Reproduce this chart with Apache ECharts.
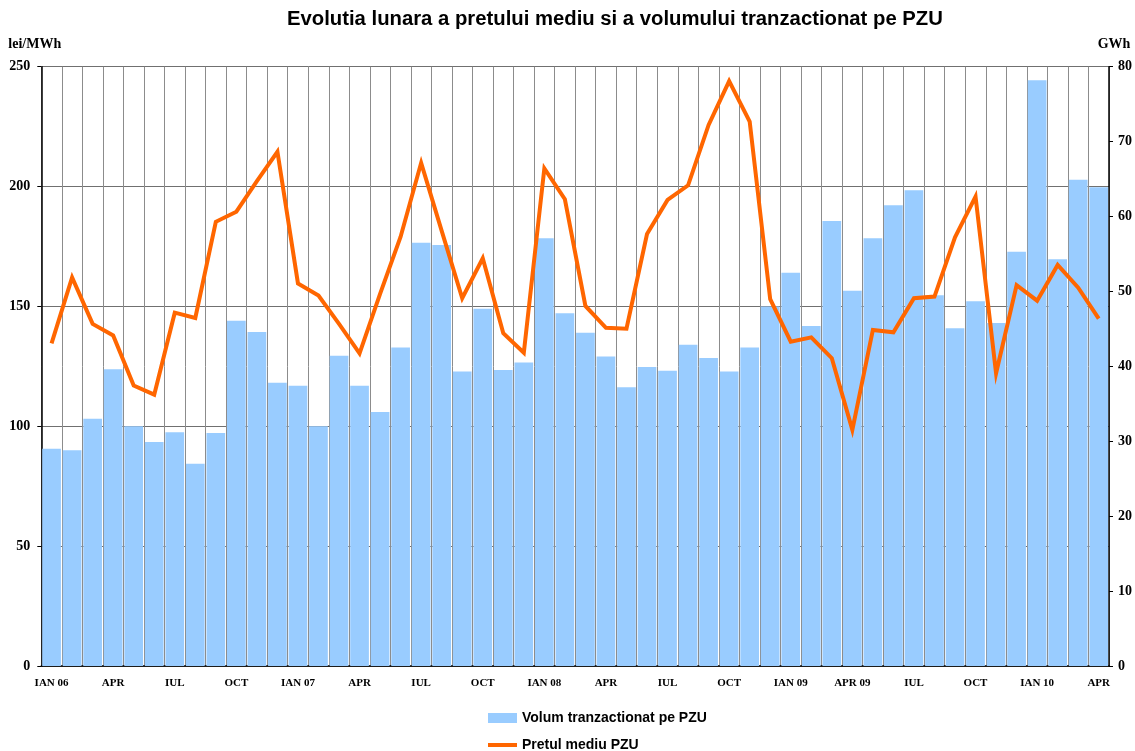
<!DOCTYPE html>
<html>
<head>
<meta charset="utf-8">
<title>PZU</title>
<script src="https://cdn.jsdelivr.net/npm/echarts@6/dist/echarts.min.js"></script>
<style>
  html, body { margin: 0; padding: 0; background: #fff; }
  #main { width: 1135px; height: 751px; }
</style>
</head>
<body>
<div id="main"></div>
<script>
// luni ian 2006 - apr 2010
const months = [
  'IAN 06', 'FEB 06', 'MAR 06', 'APR 06', 'MAI 06', 'IUN 06', 'IUL 06', 'AUG 06', 'SEP 06', 'OCT 06', 'NOV 06', 'DEC 06',
  'IAN 07', 'FEB 07', 'MAR 07', 'APR 07', 'MAI 07', 'IUN 07', 'IUL 07', 'AUG 07', 'SEP 07', 'OCT 07', 'NOV 07', 'DEC 07',
  'IAN 08', 'FEB 08', 'MAR 08', 'APR 08', 'MAI 08', 'IUN 08', 'IUL 08', 'AUG 08', 'SEP 08', 'OCT 08', 'NOV 08', 'DEC 08',
  'IAN 09', 'FEB 09', 'MAR 09', 'APR 09', 'MAI 09', 'IUN 09', 'IUL 09', 'AUG 09', 'SEP 09', 'OCT 09', 'NOV 09', 'DEC 09',
  'IAN 10', 'FEB 10', 'MAR 10', 'APR 10',
]
// etichete afisate (din 3 in 3 luni)
const tickLabels = [
  'IAN 06', 'APR', 'IUL', 'OCT', 'IAN 07', 'APR', 'IUL', 'OCT', 'IAN 08',
  'APR', 'IUL', 'OCT', 'IAN 09', 'APR 09', 'IUL', 'OCT', 'IAN 10', 'APR',
]
// GWh
const volum = [
  29.0, 28.8, 33.0, 39.6, 32.0, 29.9, 31.2, 27.0, 31.1, 46.1, 44.6, 37.8,
  37.4, 32.0, 41.4, 37.4, 33.9, 42.5, 56.5, 56.2, 39.3, 47.7, 39.5, 40.5,
  57.1, 47.1, 44.5, 41.3, 37.2, 39.9, 39.4, 42.9, 41.1, 39.3, 42.5, 48.0,
  52.5, 45.4, 59.4, 50.1, 57.1, 61.5, 63.5, 49.5, 45.1, 48.7, 45.8, 55.3,
  78.2, 54.3, 64.9, 63.9,
]
// lei/MWh
const pret = [
  134.6, 162.1, 142.7, 137.9, 117.0, 113.2, 147.4, 145.2, 185.3, 189.5, 202.3, 214.5,
  159.6, 154.5, 142.7, 130.4, 155.2, 179.1, 209.9, 181.5, 153.4, 170.1, 138.8, 130.7,
  207.6, 194.7, 150.2, 141.1, 140.7, 180.2, 194.4, 200.5, 225.7, 244.0, 227.1, 153.0,
  135.3, 137.1, 128.4, 98.5, 140.2, 139.2, 153.4, 154.1, 178.8, 195.8, 122.1, 158.9,
  152.4, 167.3, 157.8, 144.9,
]

const serif = '"Liberation Serif", "Times New Roman", serif'
const sans = '"Liberation Sans", Arial, sans-serif'

let chart = echarts.init(document.getElementById('main'))
chart.setOption({
  animation: false,
  title: {
    text: 'Evolutia lunara a pretului mediu si a volumului tranzactionat pe PZU',
    left: 287,
    top: 9,
    padding: 0,
    textStyle: { fontFamily: sans, fontSize: 20.3, fontWeight: 'bold', color: '#000' },
  },
  legend: [
    {
      data: ['Volum tranzactionat pe PZU'],
      left: 488, top: 711, padding: 0,
      icon: 'rect', itemWidth: 29, itemHeight: 10, itemGap: 0,
      textStyle: { fontFamily: sans, fontSize: 14, fontWeight: 'bold', color: '#000' },
    },
    {
      data: ['Pretul mediu PZU'],
      left: 488, top: 738, padding: 0,
      icon: 'rect', itemWidth: 29, itemHeight: 4, itemGap: 0,
      textStyle: { fontFamily: sans, fontSize: 14, fontWeight: 'bold', color: '#000' },
    },
  ],
  grid: { left: 41.3, right: 24.7, top: 66.7, bottom: 85 },
  xAxis: {
    type: 'category',
    data: months,
    boundaryGap: true,
    axisLine: { lineStyle: { color: '#000', width: 1.5 } },
    axisTick: { interval: 0, length: 4, lineStyle: { color: '#000' } },
    axisLabel: {
      interval: 2,
      margin: 12,
      fontFamily: serif, fontSize: 11, fontWeight: 'bold', color: '#000',
      formatter: (v, i) => tickLabels[Math.round(i / 3)],
    },
    splitLine: { show: true, interval: 0, lineStyle: { color: '#8c8c8c', width: 1 } },
  },
  yAxis: [
    {
      type: 'value',
      min: 0, max: 250, interval: 50,
      name: 'lei/MWh',
      nameGap: 15,
      nameTextStyle: { fontFamily: serif, fontSize: 14, fontWeight: 'bold', color: '#000', align: 'center', padding: [0, 13, 0, 0] },
      axisLine: { show: true, lineStyle: { color: '#000', width: 1.5 } },
      axisTick: { show: true, length: 4, lineStyle: { color: '#000' } },
      axisLabel: { margin: 11, fontFamily: serif, fontSize: 14, fontWeight: 'bold', color: '#000' },
      splitLine: { show: true, lineStyle: { color: '#707070', width: 1 } },
    },
    {
      type: 'value',
      min: 0, max: 80, interval: 10,
      name: 'GWh',
      nameGap: 15,
      nameTextStyle: { fontFamily: serif, fontSize: 14, fontWeight: 'bold', color: '#000', align: 'center', padding: [0, 0, 0, 10] },
      axisLine: { show: true, lineStyle: { color: '#000', width: 1.5 } },
      axisTick: { show: true, length: 4, lineStyle: { color: '#000' } },
      axisLabel: { margin: 9, fontFamily: serif, fontSize: 14, fontWeight: 'bold', color: '#000' },
      splitLine: { show: false },
    },
  ],
  series: [
    {
      name: 'Volum tranzactionat pe PZU',
      type: 'bar',
      yAxisIndex: 1,
      data: volum,
      barCategoryGap: '9%',
      itemStyle: { color: '#99CCFF' },
    },
    {
      name: 'Pretul mediu PZU',
      type: 'line',
      yAxisIndex: 0,
      data: pret,
      symbol: 'none',
      itemStyle: { color: '#FF6600' },
      lineStyle: { color: '#FF6600', width: 4, join: 'miter' },
    },
  ],
})
</script>
</body>
</html>
